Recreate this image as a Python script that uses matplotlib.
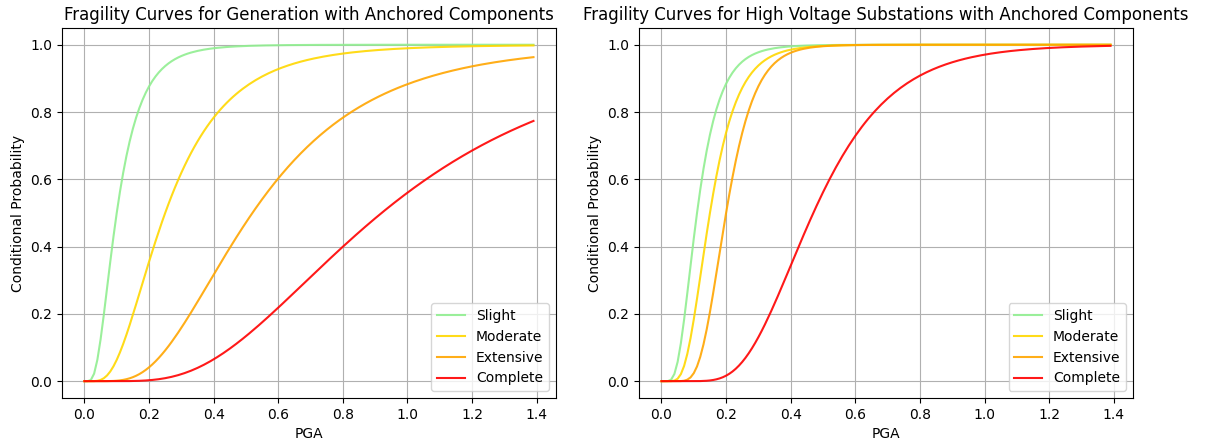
import numpy as np
from math import erf, sqrt
from matplotlib import pyplot as plt

# HAZUS style lognormal fragility parameters (median PGA in g, beta)
damage_states = ["Slight", "Moderate", "Extensive", "Complete"]
colors = ["lightgreen", "gold", "orange", "red"]

gen_medians = [0.10, 0.25, 0.52, 0.92]
gen_betas = [0.60, 0.60, 0.55, 0.55]

sub_medians = [0.11, 0.15, 0.20, 0.47]
sub_betas = [0.50, 0.45, 0.35, 0.40]

pga = np.arange(0, 1.4, 0.01)


def fragility(x, median, beta):
    out = []
    for v in x:
        if v <= 0:
            out.append(0.0)
        else:
            z = np.log(v / median) / beta
            out.append(0.5 * (1 + erf(z / sqrt(2))))
    return np.array(out)


def main():
    fig = plt.figure(figsize=(12.08, 4.43), dpi=100)
    ax1 = fig.add_axes([0.0513, 0.1016, 0.4089, 0.8354])
    ax2 = fig.add_axes([0.5290, 0.1016, 0.4089, 0.8354])

    panels = [
        (ax1, gen_medians, gen_betas, "Fragility Curves for Generation with Anchored Components"),
        (ax2, sub_medians, sub_betas, "Fragility Curves for High Voltage Substations with Anchored Components"),
    ]

    for ax, meds, betas, title in panels:
        for name, m, b, c in zip(damage_states, meds, betas, colors):
            ax.plot(pga, fragility(pga, m, b), color=c, label=name, alpha=0.9, linewidth=1.5)
        ax.set_title(title)
        ax.set_xlabel("PGA")
        ax.set_ylabel("Conditional Probability")
        ax.grid(True)
        ax.legend(loc="lower right")

    fig.savefig("out.png", dpi=100)


if __name__ == '__main__':
    main()
